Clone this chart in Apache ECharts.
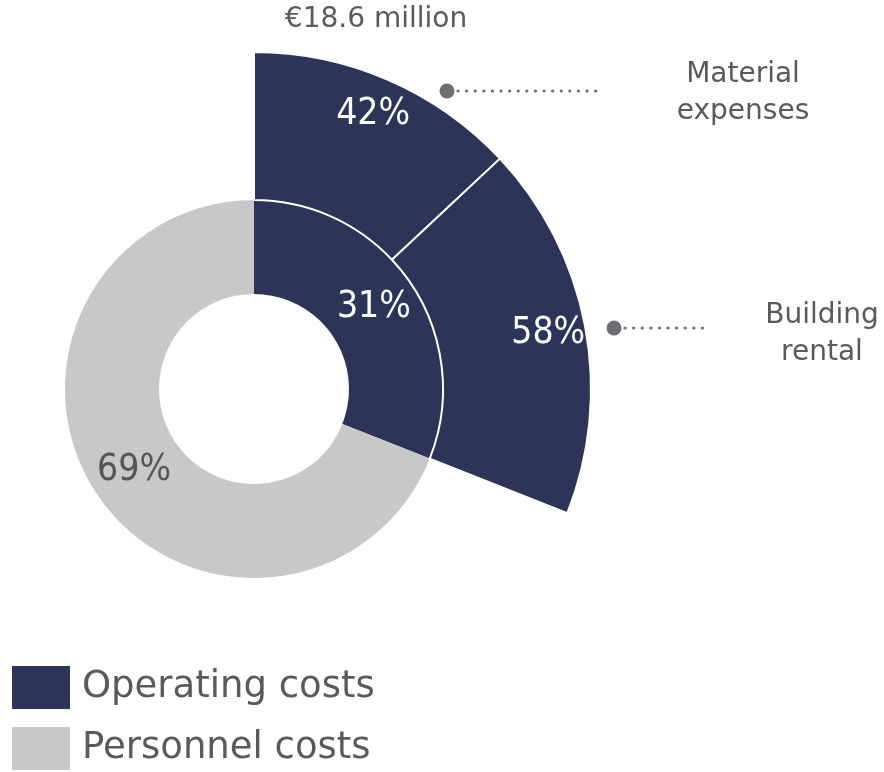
<!DOCTYPE html>
<html>
<head>
<meta charset="utf-8">
<script src="https://cdn.jsdelivr.net/npm/echarts@6/dist/echarts.min.js"></script>
<style>
  html, body { margin: 0; padding: 0; background: #fff; }
  #main { width: 884px; height: 772px; }
</style>
</head>
<body>
<div id="main"></div>
<script>
// inner ring: total cost split
var mainNames = ['Operating costs', 'Personnel costs'];
var mainShares = [31, 69];
// outer ring: split of operating costs
var subNames = ['Material expenses', 'Building rental'];
var subShares = [42, 58];
var totalLabel = '€18.6 million';

var navy = '#2e3458', grey = '#c8c8c8', textGrey = '#5a5a5a', dotGrey = '#6e6e72';
var pctFont = "'Liberation Sans Narrow', 'DejaVu Sans Condensed', sans-serif";
var txtFont = "'DejaVu Sans', sans-serif";

var myChart = echarts.init(document.getElementById('main'));

// outer pieces are parts of the operating slice, rest stays empty
var outerData = subNames.map(function (n, i) {
    return { name: n, value: subShares[i] * mainShares[0] / 100 };
});
outerData.push({ name: '', value: mainShares[1], itemStyle: { color: 'transparent', borderWidth: 0 }, label: { show: false } });

// leader dots + dotted lines + sub labels
function leader(x0, x1, y, tx, ty, name) {
    return [
        { type: 'circle', shape: { cx: x0, cy: y, r: 7.5 }, style: { fill: dotGrey } },
        { type: 'line', shape: { x1: x0 + 11, y1: y, x2: x1, y2: y },
          style: { stroke: dotGrey, lineWidth: 3.2, lineDash: [0.1, 8.5], lineCap: 'round' } },
        { type: 'text', x: tx, y: ty,
          style: { text: name.replace(' ', '\n'), fill: textGrey, font: '28px ' + txtFont,
                   textAlign: 'center', textVerticalAlign: 'middle', lineHeight: 37 } }
    ];
}

option = {
    animation: false,
    title: {
        text: totalLabel,
        left: 376, top: 6, textAlign: 'center', padding: 0,
        textStyle: { fontFamily: txtFont, fontSize: 28, fontWeight: 'normal', color: textGrey }
    },
    legend: {
        orient: 'vertical', left: 12, top: 666, padding: 0,
        height: 106,
        data: mainNames,
        icon: 'rect', itemWidth: 58, itemHeight: 43, itemGap: 18,
        selectedMode: false,
        textStyle: { fontFamily: txtFont, fontSize: 37, color: textGrey, padding: [0, 0, 0, 7] }
    },
    graphic: leader(447, 603, 91, 743, 93, subNames[0]).concat(leader(614, 705, 328, 822, 334, subNames[1])),
    series: [
        {
            name: 'total',
            type: 'pie',
            center: [254, 389],
            radius: [95, 189],
            startAngle: 90,
            silent: true,
            avoidLabelOverlap: false,
            label: {
                show: true, position: 'inside',
                formatter: '{c}%',
                fontFamily: pctFont, fontSize: 37
            },
            labelLine: { show: false },
            data: mainNames.map(function (n, i) {
                return { name: n, value: mainShares[i],
                         itemStyle: { color: i == 0 ? navy : grey },
                         label: { color: i == 0 ? '#fff' : '#555' } };
            })
        },
        {
            name: 'operating',
            type: 'pie',
            center: [254, 389],
            radius: [189, 337],
            startAngle: 90,
            silent: true,
            label: { show: false },
            labelLine: { show: false },
            itemStyle: { color: navy, borderColor: '#fff', borderWidth: 2 },
            data: outerData
        },
        {
            // same pieces again, only to place the % labels further out
            name: 'operating labels',
            type: 'pie',
            center: [254, 389],
            radius: [253, 340],
            startAngle: 90,
            silent: true,
            avoidLabelOverlap: false,
            itemStyle: { color: 'transparent' },
            label: {
                show: true, position: 'inside', color: '#fff',
                fontFamily: pctFont, fontSize: 37,
                formatter: function (p) { return subShares[p.dataIndex] + '%'; }
            },
            labelLine: { show: false },
            data: outerData
        }
    ]
};
myChart.setOption(option);
</script>
</body>
</html>
